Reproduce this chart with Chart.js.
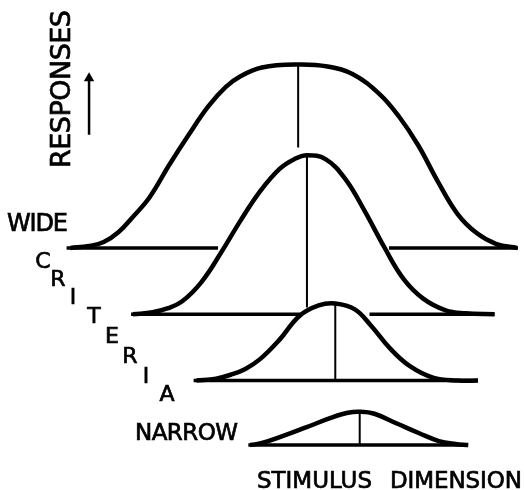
<!DOCTYPE html>
<html>
<head>
<meta charset="utf-8">
<script src="https://cdn.jsdelivr.net/npm/chart.js@4/dist/chart.umd.min.js"></script>
<style>
  html, body { margin: 0; padding: 0; background: #fff; }
  #wrap { width: 524px; height: 490px; }
</style>
</head>
<body>
<div id="wrap"><canvas id="chart" width="524" height="490"></canvas></div>
<script>
// values: x = stimulus dimension, y = responses (drawing units, up = more)
const wideX   = [66, 85, 100, 115, 130, 147, 167, 187, 207, 225, 240, 262, 299, 329, 355, 382, 402, 422, 442, 462, 482, 502, 523];
const wideY   = [242, 244, 248, 258, 274, 294, 327, 358, 387, 407, 418, 427, 430, 428, 420, 400, 377, 347, 310, 277, 257, 246, 242];
const wide2X  = [130, 150, 165, 180, 200, 220, 240, 260, 280, 295, 308, 327, 347, 367, 387, 407, 427, 450, 470, 500];
const wide2Y  = [174, 176, 180, 187, 207, 237, 270, 300, 323, 333, 337, 333, 313, 280, 243, 210, 190, 178, 175, 174];
const narr2X  = [195, 215, 230, 245, 260, 280, 300, 320, 337, 357, 373, 393, 413, 437, 463, 483];
const narr2Y  = [106, 108, 112, 118, 128, 148, 172, 183, 185, 179, 163, 139, 121, 109, 106, 106];
const narrX   = [250, 262, 283, 307, 333, 350, 362, 377, 400, 423, 443, 460, 473];
const narrY   = [40, 42, 49, 58, 68, 73, 74, 72, 62, 52, 44, 41, 40];

// baselines [x0, x1, y] and criterion lines [x, yTop, yBottom]
const baselines = [[62, 217, 242], [392, 524, 242], [128, 302, 174], [372, 500, 174], [192, 483, 106], [248, 473, 40]];
const criteria  = [[299, 430, 345], [308, 337, 181], [337, 184, 106], [362, 74, 40]];
const arrowLine = [[85, 358], [85, 416]];

const curveSets = [[wideX, wideY], [wide2X, wide2Y], [narr2X, narr2Y], [narrX, narrY]];

const datasets = [];
curveSets.forEach(([xs, ys]) => {
    datasets.push({
        data: xs.map((x, i) => ({ x: x, y: ys[i] })),
        borderColor: '#000', borderWidth: 4.5, pointRadius: 0,
        showLine: true, tension: 0.4
    });
});
baselines.forEach(b => {
    datasets.push({
        data: [{ x: b[0], y: b[2] }, { x: b[1], y: b[2] }],
        borderColor: '#000', borderWidth: 3.5, pointRadius: 0, showLine: true
    });
});
criteria.forEach(c => {
    datasets.push({
        data: [{ x: c[0], y: c[1] }, { x: c[0], y: c[2] }],
        borderColor: '#000', borderWidth: 2, pointRadius: 0, showLine: true
    });
});
datasets.push({
    data: arrowLine.map(p => ({ x: p[0], y: p[1] })),
    borderColor: '#000', backgroundColor: '#000', borderWidth: 2.5, showLine: true,
    pointStyle: 'triangle', pointRadius: [0, 6], pointBorderWidth: 0
});

// lettering
function fitText(ctx, txt, x, y, width) {
    ctx.letterSpacing = '0px';
    const w = ctx.measureText(txt).width;
    const sp = txt.length > 1 ? (width - w) / (txt.length - 1) : 0;
    ctx.letterSpacing = sp + 'px';
    ctx.fillText(txt, x, y);
    ctx.strokeText(txt, x, y);
    ctx.letterSpacing = '0px';
}

const letters = {
    id: 'letters',
    afterDraw(chart) {
        const ctx = chart.ctx;
        ctx.save();
        ctx.fillStyle = '#000';
        ctx.strokeStyle = '#000';
        ctx.lineWidth = 0.7;
        ctx.textAlign = 'left';
        ctx.textBaseline = 'alphabetic';

        ctx.font = '24px "DejaVu Sans"';
        fitText(ctx, 'WIDE', 7, 231, 61);
        ctx.font = '23px "DejaVu Sans"';
        fitText(ctx, 'NARROW', 135, 440, 103);
        fitText(ctx, 'STIMULUS', 257, 488, 115);
        fitText(ctx, 'DIMENSION', 390, 488, 132);

        ctx.save();
        ctx.translate(70, 168);
        ctx.rotate(-Math.PI / 2);
        ctx.font = '27px "DejaVu Sans"';
        fitText(ctx, 'RESPONSES', 0, 0, 158);
        ctx.restore();

        ctx.font = '22px "DejaVu Sans"';
        ctx.textAlign = 'center';
        ctx.textBaseline = 'middle';
        const crit = [['C', 43, 262], ['R', 58, 280], ['I', 73, 298], ['T', 94, 317],
                      ['E', 112, 337], ['R', 130, 357], ['I', 146, 377], ['A', 167, 395]];
        crit.forEach(c => { ctx.fillText(c[0], c[1], c[2]); ctx.strokeText(c[0], c[1], c[2]); });
        ctx.restore();
    }
};

new Chart(document.getElementById('chart'), {
    type: 'scatter',
    data: { datasets: datasets },
    options: {
        responsive: false,
        animation: false,
        layout: { padding: 0 },
        plugins: { legend: { display: false }, tooltip: { enabled: false } },
        scales: {
            x: { type: 'linear', min: 0, max: 524, display: false },
            y: { type: 'linear', min: 0, max: 490, display: false }
        }
    },
    plugins: [letters]
});
</script>
</body>
</html>
